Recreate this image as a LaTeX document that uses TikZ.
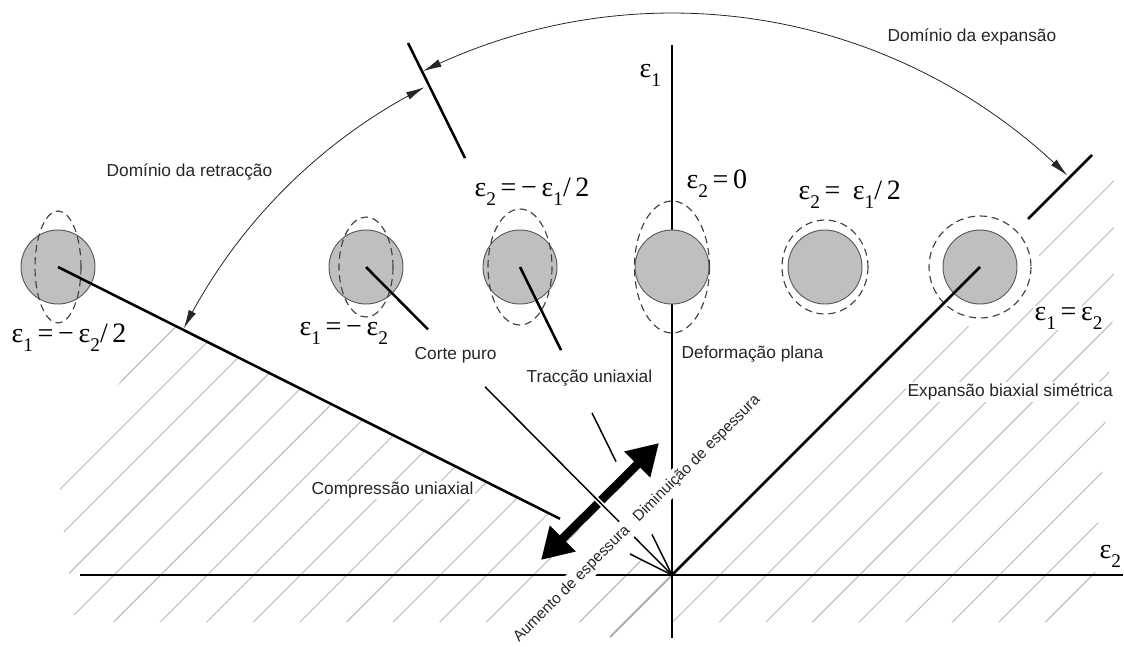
\documentclass[tikz,border=0pt]{standalone}
\usepackage{fontspec}
\setmainfont{Liberation Sans}
\newfontfamily\serf{Liberation Serif}
\usetikzlibrary{arrows.meta,calc}
\newcommand\sbx[1]{\raisebox{-0.32em}{\fontsize{14.5}{15}\selectfont #1}}
\begin{document}
\begin{tikzpicture}[x=0.75pt,y=-0.75pt,
  lbl/.style={font=\fontsize{13}{15}\selectfont, text=black!85, inner sep=1pt},
  lblw/.style={lbl, fill=white},
  rlbl/.style={font=\fontsize{11.5}{13}\selectfont, text=black!85, fill=white, inner sep=2.5pt, rotate=45},
  eps/.style={font=\serf\fontsize{21}{23}\selectfont, inner sep=1pt},
  hatch/.style={gray!55, line width=0.7pt},
  axis/.style={black, line width=0.9pt},
  main/.style={black, line width=1.9pt},
  thin/.style={black, line width=1.1pt},
  disc/.style={fill=gray!50, draw=black!65, line width=0.7pt},
  dashring/.style={draw=black!75, line width=0.85pt, dash pattern=on 5.5pt off 3.5pt},
  arcline/.style={line width=0.6pt, black!85, {Latex[length=14pt,width=6pt]}-{Latex[length=14pt,width=6pt]}},
  bigarrow/.style={line width=6.5pt, {Triangle[length=23pt,width=26pt]}-{Triangle[length=23pt,width=26pt]}}
]
\fill[white] (0,0) rectangle (1124,646);
\useasboundingbox (0,0) rectangle (1124,646);

\coordinate (O) at (672,575);
\coordinate (c1) at (58,267);
\coordinate (c2) at (366,267);
\coordinate (c3) at (520,267);
\coordinate (c4) at (672,267);
\coordinate (c5) at (825,267);
\coordinate (c6) at (980,267);
\coordinate (xl) at (80,575);
\coordinate (xr) at (1123,575);
\coordinate (yt) at (672,45);
\coordinate (yb) at (672,638);
\coordinate (g7) at (610,637);
\coordinate (a1) at (541,560);
\coordinate (a2) at (659,443);
\coordinate (t1a) at (408,43);
\coordinate (t1b) at (465,158);
\coordinate (t2a) at (1028,219);
\coordinate (t2b) at (1092,155);

% hatching
\begin{scope}
\clip (165,321) -- (672,575) -- (1100,147) -- (1114,147) -- (1114,300) -- (1095,575) -- (1085,622) -- (75,622) -- (60,500) -- (60,455) -- (113,392) -- cycle;
\foreach \k in {-9,-8,...,6,8,9,...,16} {
  \pgfmathsetmacro\cc{922+46.6*\k}
  \draw[hatch] (\cc-700,700) -- (\cc+100,-100);
}
\end{scope}
\draw[gray!60, line width=1.6pt] (O) -- (g7);

% axes
\draw[axis] (xl) -- (xr);
\draw[axis] (yt) -- (yb);

% big double arrow
\draw[bigarrow] (a1) -- (a2);

% circles
\fill[white] (c6) circle[radius=60];
\foreach \c/\rx/\ry in {c1/23/56, c2/27/50, c3/32/58, c4/37.5/66, c5/43/47, c6/51/51} {
  \draw[disc] (\c) circle[radius=37];
  \draw[dashring] (\c) ellipse[x radius=\rx, y radius=\ry];
}

% strain path lines
\draw[main] (c1) -- ($(c1)!0.8176!(O)$);
\draw[thin] ($(c1)!0.9316!(O)$) -- (O);
\draw[main] (c2) -- ($(c2)!0.2026!(O)$);
\draw[white, line width=3.5pt] ($(c2)!0.70!(O)$) -- ($(c2)!0.83!(O)$);
\draw[thin] ($(c2)!0.389!(O)$) -- (O);
\draw[main] (c3) -- ($(c3)!0.27!(O)$);
\draw[thin] ($(c3)!0.474!(O)$) -- ($(c3)!0.632!(O)$);
\draw[thin] ($(c3)!0.868!(O)$) -- (O);
\draw[main] (O) -- (c6);

% ticks
\draw[main] (t1a) -- (t1b);
\draw[main] (t2a) -- (t2b);

% domain arcs
\draw[arcline] plot[domain=45.3:116.3, samples=90] ({672+562*cos(\x)},{575-562*sin(\x)});
\draw[arcline] plot[domain=116.9:153.2, samples=60] ({672+547*cos(\x)},{575-547*sin(\x)});

% epsilon labels
\node[eps, anchor=west] (l1) at (10,338) {ε\sbx{1}\,=\,−\,ε\sbx{2}/\,2};
\node[eps, anchor=west] (l2) at (298,333) {ε\sbx{1}\,=\,−\,ε\sbx{2}};
\node[eps, anchor=west] (l3) at (473,192) {ε\sbx{2}\,=\,−\,ε\sbx{1}/\,2};
\node[eps, anchor=west] (l4) at (685,184) {ε\sbx{2}\,=\,0};
\node[eps, anchor=west] (l5) at (797,195) {ε\sbx{2}\,=\;\,ε\sbx{1}/\,2};
\node[eps, anchor=west, fill=white] (l6) at (1033,318) {ε\sbx{1}\,=\,ε\sbx{2}};
\node[eps, anchor=west] (ax1) at (638,75) {ε\sbx{1}};
\node[eps, anchor=west, fill=white] (ax2) at (1098,556) {ε\sbx{2}};

% text labels
\node[lbl, anchor=west] (dr) at (105,172) {Domínio da retracção};
\node[lbl, anchor=west] (de) at (886,37) {Domínio da expansão};
\node[lbl, anchor=west] (cp) at (413,355) {Corte puro};
\node[lbl, anchor=west] (tu) at (525,378) {Tracção uniaxial};
\node[lbl, anchor=west] (dp) at (680,354) {Deformação plana};
\node[lblw, anchor=west] (eb) at (906,392) {Expansão biaxial simétrica};
\node[lblw, anchor=west] (cu) at (310,490) {Compressão uniaxial};
\node[rlbl] (dim) at (697,459) {Diminuição de espessura};
\node[rlbl] (aum) at (572,584) {Aumento de espessura};
\end{tikzpicture}
\end{document}
